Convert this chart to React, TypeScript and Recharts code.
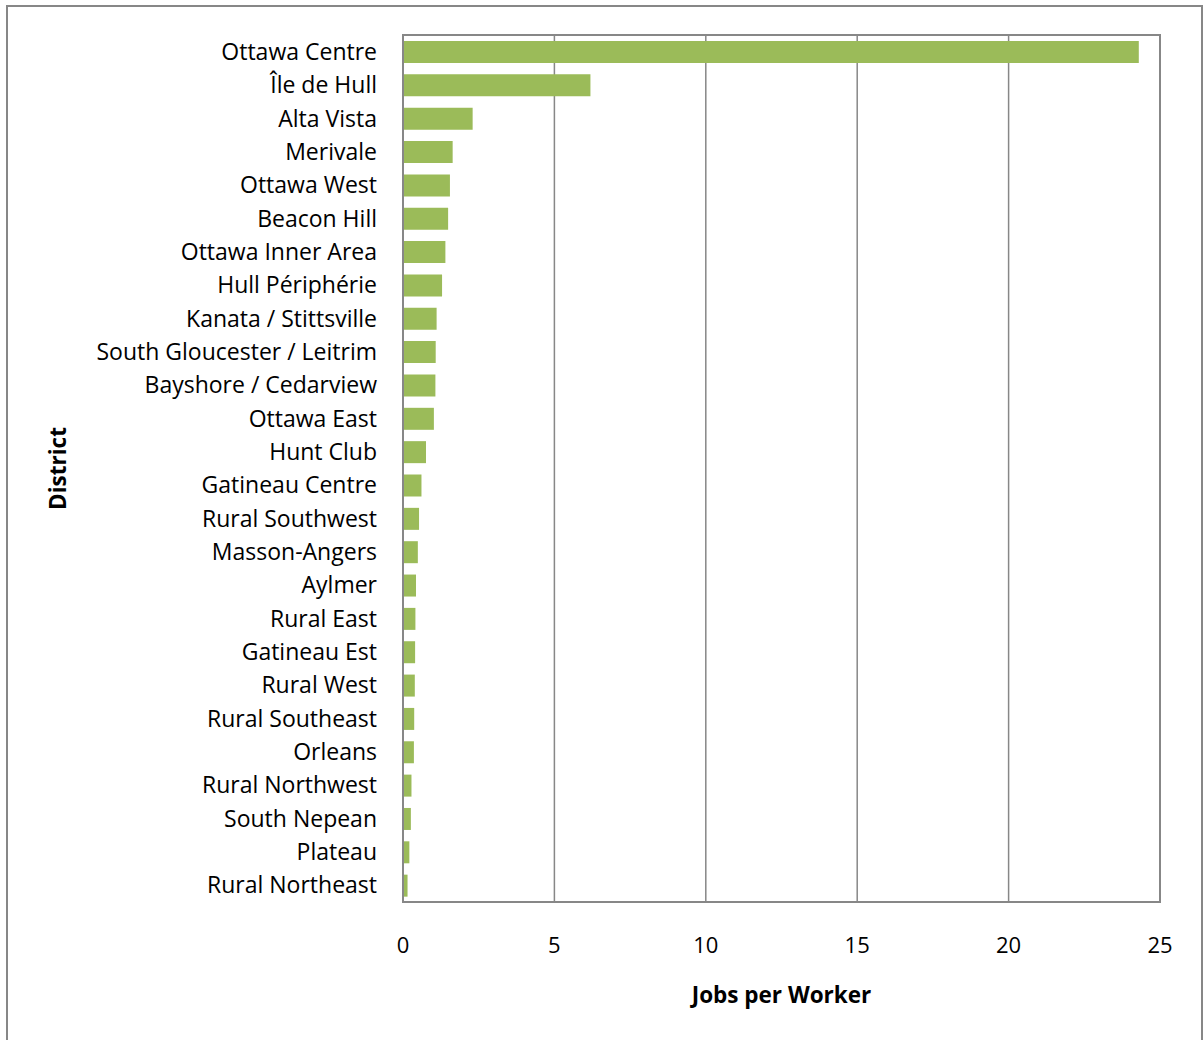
import {
  BarChart,
  Bar,
  XAxis,
  YAxis,
  CartesianGrid,
  ReferenceArea,
} from "recharts";

const districts = [
  "Ottawa Centre",
  "Île de Hull",
  "Alta Vista",
  "Merivale",
  "Ottawa West",
  "Beacon Hill",
  "Ottawa Inner Area",
  "Hull Périphérie",
  "Kanata / Stittsville",
  "South Gloucester / Leitrim",
  "Bayshore / Cedarview",
  "Ottawa East",
  "Hunt Club",
  "Gatineau Centre",
  "Rural Southwest",
  "Masson-Angers",
  "Aylmer",
  "Rural East",
  "Gatineau Est",
  "Rural West",
  "Rural Southeast",
  "Orleans",
  "Rural Northwest",
  "South Nepean",
  "Plateau",
  "Rural Northeast",
];

const jobsPerWorker = [
  24.3, 6.19, 2.3, 1.64, 1.55, 1.49, 1.4, 1.29, 1.11, 1.08, 1.07, 1.02, 0.76,
  0.61, 0.53, 0.49, 0.43, 0.41, 0.4, 0.39, 0.37, 0.36, 0.28, 0.26, 0.21, 0.15,
];

const xTicks = [0, 5, 10, 15, 20, 25];

const data = districts.map((name, i) => ({ name, value: jobsPerWorker[i] }));

const FONT = "'Open Sans', Lato, sans-serif";
const GRID = "#878787";

export default function App() {
  return (
    <div
      style={{
        position: "absolute",
        left: 0,
        top: 0,
        width: 1204,
        height: 1040,
        overflow: "hidden",
        background: "#fff",
        fontFamily: FONT,
      }}
    >
      <div
        style={{
          position: "absolute",
          left: 6,
          top: 5,
          width: 1197,
          height: 1100,
          border: `2px solid ${GRID}`,
          boxSizing: "border-box",
        }}
      />
      <div style={{ position: "absolute", left: 0, top: 0 }}>
        <BarChart
          width={1204}
          height={1040}
          data={data}
          layout="vertical"
          margin={{ top: 35, right: 44, left: 0, bottom: 0 }}
          barSize={22}
        >
          <CartesianGrid
            horizontal={false}
            stroke={GRID}
            strokeWidth={1.5}
          />
          <ReferenceArea
            x1={0}
            x2={25}
            fill="none"
            stroke={GRID}
            strokeWidth={2}
          />
          <XAxis
            type="number"
            domain={[0, 25]}
            ticks={xTicks}
            interval={0}
            height={138}
            axisLine={{ stroke: GRID, strokeWidth: 2 }}
            tickLine={false}
            tickSize={0}
            tickMargin={35}
            tick={{ fontSize: 22, fill: "#000", fontFamily: FONT }}
            label={{
              value: "Jobs per Worker",
              position: "insideBottom",
              offset: 37,
              style: {
                fontSize: 22.5,
                fontWeight: 700,
                fill: "#000",
                fontFamily: FONT,
              },
            }}
          />
          <YAxis
            type="category"
            dataKey="name"
            width={403}
            interval={0}
            axisLine={{ stroke: GRID, strokeWidth: 2 }}
            tickLine={false}
            tickSize={0}
            tickMargin={26}
            tick={{ fontSize: 23, fill: "#000", fontFamily: FONT }}
            label={{
              value: "District",
              angle: -90,
              position: "insideLeft",
              offset: 58,
              style: {
                fontSize: 22.5,
                fontWeight: 700,
                fill: "#000",
                fontFamily: FONT,
                textAnchor: "middle",
              },
            }}
          />
          <Bar dataKey="value" fill="#9BBB59" isAnimationActive={false} />
        </BarChart>
      </div>
    </div>
  );
}
